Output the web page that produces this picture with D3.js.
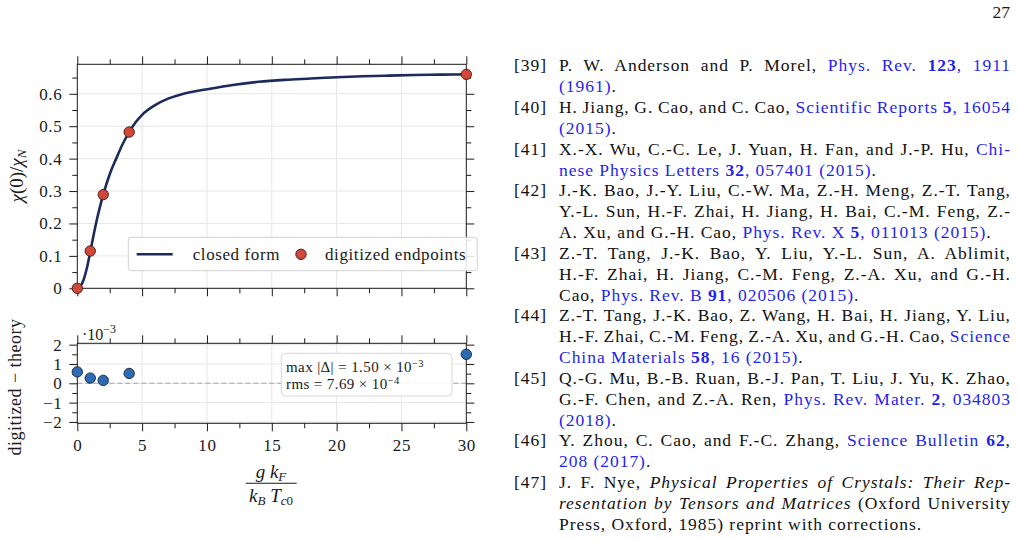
<!DOCTYPE html>
<html>
<head>
<meta charset="utf-8">
<title>chi(0)/chi_N closed form vs digitized endpoints</title>
<style>
  body { margin: 0; background: #fff; }
  #page { position: relative; width: 1018px; height: 540px; overflow: hidden; background: #fff;
          font-family: "Liberation Serif", Tinos, "Times New Roman", serif; color: #111; }
  #page svg { position: absolute; left: 0; top: 0; }
  .refs div { position: absolute; line-height: 20.83px; height: 20.83px; white-space: nowrap; }
  .refs .line { left: 559px; width: 452px; }
  .refs .num { left: 0; width: 547px; text-align: right; }
  .refs .l { color: #1f1ff0; }
  .refs .lb { color: #1f1ff0; font-weight: bold; }
  .refs .i { font-style: italic; }
</style>
</head>
<body>
<div id="page"></div>
<script src="https://cdn.jsdelivr.net/npm/d3@7"></script>
<script>

    // closed form curve
    var curveX = [0, 0.25, 0.5, 0.75, 1, 1.25, 1.5, 1.75, 2, 2.5, 3, 3.5, 4, 4.5, 5, 6, 7, 8, 9, 10, 12, 14, 16, 18, 20, 22, 24, 26, 28, 30];
    var curveY = [0, 0.007, 0.028, 0.064, 0.113, 0.163, 0.21, 0.252, 0.289, 0.352, 0.40, 0.445, 0.482, 0.512, 0.535, 0.565, 0.585, 0.598, 0.607, 0.614, 0.627, 0.637, 0.643, 0.647, 0.651, 0.654, 0.656, 0.658, 0.659, 0.660];

    // digitized endpoints and residuals (units of 1e-3)
    var pointX = [0, 1, 2, 4, 30];
    var pointY = [0, 0.115, 0.289, 0.482, 0.660];
    var residual = [0.59, 0.27, 0.15, 0.51, 1.50];

    var xTicks = [0, 5, 10, 15, 20, 25, 30];
    var xLabels = ["0", "5", "10", "15", "20", "25", "30"];
    var xMinor = [2.5, 7.5, 12.5, 17.5, 22.5, 27.5];
    var topTicks = [0, 0.1, 0.2, 0.3, 0.4, 0.5, 0.6];
    var topLabels = ["0", "0.1", "0.2", "0.3", "0.4", "0.5", "0.6"];
    var topMinor = [0.05, 0.15, 0.25, 0.35, 0.45, 0.55, 0.65];
    var botTicks = [-2, -1, 0, 1, 2];
    var botLabels = ["\u22122", "\u22121", "0", "1", "2"];
    var botMinor = [-1.5, -0.5, 0.5, 1.5];

    var statLines = ["max |\u0394| = 1.50 \u00d7 10", "rms = 7.69 \u00d7 10"];
    var statExps = ["\u22123", "\u22124"];

    // bibliography lines on the right half of the page
    var refLines = [
      {num: "[39]", just: true, segs: [["P. W. Anderson and P. Morel, ", ""], ["Phys. Rev. ", "l"], ["123", "lb"], [", 1911", "l"]]},
      {segs: [["(1961)", "l"], [".", ""]]},
      {num: "[40]", just: true, segs: [["H. Jiang, G. Cao, and C. Cao, ", ""], ["Scientific Reports ", "l"], ["5", "lb"], [", 16054", "l"]]},
      {segs: [["(2015)", "l"], [".", ""]]},
      {num: "[41]", just: true, segs: [["X.-X. Wu, C.-C. Le, J. Yuan, H. Fan, and J.-P. Hu, ", ""], ["Chi-", "l"]]},
      {segs: [["nese Physics Letters ", "l"], ["32", "lb"], [", 057401 (2015)", "l"], [".", ""]]},
      {num: "[42]", just: true, segs: [["J.-K. Bao, J.-Y. Liu, C.-W. Ma, Z.-H. Meng, Z.-T. Tang,", ""]]},
      {just: true, segs: [["Y.-L. Sun, H.-F. Zhai, H. Jiang, H. Bai, C.-M. Feng, Z.-", ""]]},
      {segs: [["A. Xu, and G.-H. Cao, ", ""], ["Phys. Rev. X ", "l"], ["5", "lb"], [", 011013 (2015)", "l"], [".", ""]]},
      {num: "[43]", just: true, segs: [["Z.-T. Tang, J.-K. Bao, Y. Liu, Y.-L. Sun, A. Ablimit,", ""]]},
      {just: true, segs: [["H.-F. Zhai, H. Jiang, C.-M. Feng, Z.-A. Xu, and G.-H.", ""]]},
      {segs: [["Cao, ", ""], ["Phys. Rev. B ", "l"], ["91", "lb"], [", 020506 (2015)", "l"], [".", ""]]},
      {num: "[44]", just: true, segs: [["Z.-T. Tang, J.-K. Bao, Z. Wang, H. Bai, H. Jiang, Y. Liu,", ""]]},
      {just: true, segs: [["H.-F. Zhai, C.-M. Feng, Z.-A. Xu, and G.-H. Cao, ", ""], ["Science", "l"]]},
      {segs: [["China Materials ", "l"], ["58", "lb"], [", 16 (2015)", "l"], [".", ""]]},
      {num: "[45]", just: true, segs: [["Q.-G. Mu, B.-B. Ruan, B.-J. Pan, T. Liu, J. Yu, K. Zhao,", ""]]},
      {just: true, segs: [["G.-F. Chen, and Z.-A. Ren, ", ""], ["Phys. Rev. Mater. ", "l"], ["2", "lb"], [", 034803", "l"]]},
      {segs: [["(2018)", "l"], [".", ""]]},
      {num: "[46]", just: true, segs: [["Y. Zhou, C. Cao, and F.-C. Zhang, ", ""], ["Science Bulletin ", "l"], ["62", "lb"], [",", ""]]},
      {segs: [["208 (2017)", "l"], [".", ""]]},
      {num: "[47]", just: true, segs: [["J. F. Nye, ", ""], ["Physical Properties of Crystals: Their Rep-", "i"]]},
      {just: true, segs: [["resentation by Tensors and Matrices", "i"], [" (Oxford University", ""]]},
      {segs: [["Press, Oxford, 1985) reprint with corrections.", ""]]}
    ];

    var SERIF = '"Liberation Serif", Tinos, "Times New Roman", serif';
    var NAVY = "#1c2a5c", RED = "#d1483a", BLUE = "#2f6bb3", INK = "#1a1a1a";

    var page = d3.select("#page");
    var svg = page.append("svg").attr("width", 1018).attr("height", 540);

    var x = d3.scaleLinear().domain([0, 30]).range([77.3, 466.3]);
    var yTop = d3.scaleLinear().domain([0, 0.691]).range([288.3, 64.3]);
    var yBot = d3.scaleLinear().domain([-2.07, 2.07]).range([423.3, 343.3]);

    function styleAxis(g) {
        g.select(".domain").remove();
        g.selectAll(".tick line").attr("stroke", INK).attr("stroke-width", 1);
        g.selectAll(".tick text")
            .attr("font-family", SERIF)
            .attr("font-size", 17)
            .attr("fill", INK)
            .style("letter-spacing", "0.6px");
    }

    function drawPanel(y, majY, minY, labY, showX) {
        var x0 = x.range()[0], x1 = x.range()[1];
        var yb = y.range()[0], yt = y.range()[1];

        // grid
        var grid = svg.append("g");
        grid.selectAll("line.gx").data(xTicks.slice(1, -1)).enter().append("line")
            .attr("x1", function(d) { return x(d); }).attr("x2", function(d) { return x(d); })
            .attr("y1", yt).attr("y2", yb)
            .attr("stroke", "#e6e6e6").attr("stroke-width", 1);
        grid.selectAll("line.gy").data(majY).enter().append("line")
            .attr("x1", x0).attr("x2", x1)
            .attr("y1", function(d) { return y(d); }).attr("y2", function(d) { return y(d); })
            .attr("stroke", "#e6e6e6").attr("stroke-width", 1);

        var ax = svg.append("g");
        ax.append("g").attr("transform", "translate(" + x0 + ",0)")
            .call(d3.axisLeft(y).tickValues(majY).tickSize(8).tickPadding(7)
                .tickFormat(function(d, i) { return labY[i]; }))
            .call(styleAxis);
        ax.append("g").attr("transform", "translate(" + x0 + ",0)")
            .call(d3.axisLeft(y).tickValues(minY).tickSize(5).tickFormat(""))
            .call(styleAxis);
        ax.append("g").attr("transform", "translate(" + x1 + ",0)")
            .call(d3.axisRight(y).tickValues(majY).tickSize(8).tickFormat(""))
            .call(styleAxis);
        ax.append("g").attr("transform", "translate(" + x1 + ",0)")
            .call(d3.axisRight(y).tickValues(minY).tickSize(5).tickFormat(""))
            .call(styleAxis);
        ax.append("g").attr("transform", "translate(0," + yt + ")")
            .call(d3.axisTop(x).tickValues(xTicks).tickSize(8).tickFormat(""))
            .call(styleAxis);
        ax.append("g").attr("transform", "translate(0," + yt + ")")
            .call(d3.axisTop(x).tickValues(xMinor).tickSize(5).tickFormat(""))
            .call(styleAxis);
        ax.append("g").attr("transform", "translate(0," + yb + ")")
            .call(d3.axisBottom(x).tickValues(xTicks).tickSize(8).tickPadding(8)
                .tickFormat(function(d, i) { return showX ? xLabels[i] : ""; }))
            .call(styleAxis);
        ax.append("g").attr("transform", "translate(0," + yb + ")")
            .call(d3.axisBottom(x).tickValues(xMinor).tickSize(5).tickFormat(""))
            .call(styleAxis);

        return ax;
    }

    // ---------- top panel ----------
    drawPanel(yTop, topTicks, topMinor, topLabels, false);

    var line = d3.line()
        .x(function(d) { return x(d[0]); })
        .y(function(d) { return yTop(d[1]); })
        .curve(d3.curveMonotoneX);

    svg.append("path")
        .datum(d3.zip(curveX, curveY))
        .attr("d", line)
        .attr("fill", "none")
        .attr("stroke", NAVY)
        .attr("stroke-width", 2.6);

    svg.append("rect")
        .attr("x", x.range()[0]).attr("y", yTop.range()[1])
        .attr("width", x.range()[1] - x.range()[0])
        .attr("height", yTop.range()[0] - yTop.range()[1])
        .attr("fill", "none").attr("stroke", INK).attr("stroke-width", 1);

    svg.append("g").selectAll("circle")
        .data(d3.zip(pointX, pointY))
        .enter().append("circle")
        .attr("cx", function(d) { return x(d[0]); })
        .attr("cy", function(d) { return yTop(d[1]); })
        .attr("r", 5.2)
        .attr("fill", RED)
        .attr("stroke", "#3a1812")
        .attr("stroke-width", 0.9);

    // legend
    var leg = svg.append("g");
    leg.append("rect")
        .attr("x", 128.3).attr("y", 237.3).attr("width", 349).attr("height", 33.4)
        .attr("rx", 3).attr("fill", "#fff").attr("fill-opacity", 0.85)
        .attr("stroke", "#d0d0d0").attr("stroke-width", 1);
    leg.append("line")
        .attr("x1", 136.7).attr("x2", 172.7).attr("y1", 254.3).attr("y2", 254.3)
        .attr("stroke", NAVY).attr("stroke-width", 2.6);
    leg.append("text").attr("x", 192.7).attr("y", 259.6)
        .attr("font-family", SERIF).attr("font-size", 17).attr("fill", INK)
        .style("letter-spacing", "0.6px")
        .text("closed form");
    leg.append("circle").attr("cx", 301).attr("cy", 254.3).attr("r", 5.2)
        .attr("fill", RED).attr("stroke", "#3a1812").attr("stroke-width", 0.9);
    leg.append("text").attr("x", 325).attr("y", 259.6)
        .attr("font-family", SERIF).attr("font-size", 17).attr("fill", INK)
        .style("letter-spacing", "0.6px")
        .text("digitized endpoints");

    // y label top
    var yl = svg.append("text")
        .attr("transform", "translate(23,176) rotate(-90)")
        .attr("text-anchor", "middle")
        .attr("font-family", SERIF).attr("font-size", 19).attr("fill", INK);
    yl.append("tspan").attr("font-style", "italic").text("\u03c7");
    yl.append("tspan").text("(0)/");
    yl.append("tspan").attr("font-style", "italic").text("\u03c7");
    yl.append("tspan").attr("font-style", "italic").attr("font-size", 13).attr("dy", 3).text("N");

    // ---------- bottom panel ----------
    drawPanel(yBot, botTicks, botMinor, botLabels, true);

    svg.append("line")
        .attr("x1", x(0)).attr("x2", x(30))
        .attr("y1", yBot(0)).attr("y2", yBot(0))
        .attr("stroke", "#b4b4b4").attr("stroke-width", 1.2)
        .attr("stroke-dasharray", "5,3");

    svg.append("rect")
        .attr("x", x.range()[0]).attr("y", yBot.range()[1])
        .attr("width", x.range()[1] - x.range()[0])
        .attr("height", yBot.range()[0] - yBot.range()[1])
        .attr("fill", "none").attr("stroke", INK).attr("stroke-width", 1);

    svg.append("g").selectAll("circle")
        .data(d3.zip(pointX, residual))
        .enter().append("circle")
        .attr("cx", function(d) { return x(d[0]); })
        .attr("cy", function(d) { return yBot(d[1]); })
        .attr("r", 5.2)
        .attr("fill", BLUE)
        .attr("stroke", "#13233d")
        .attr("stroke-width", 0.9);

    // offset text  .10^-3
    var off = svg.append("text").attr("x", 82).attr("y", 340)
        .attr("font-family", SERIF).attr("font-size", 16).attr("fill", INK);
    off.append("tspan").text("\u00b710");
    off.append("tspan").attr("font-size", 12).attr("dy", -7).text("\u22123");

    // stats box
    var st = svg.append("g");
    st.append("rect")
        .attr("x", 281.3).attr("y", 353.3).attr("width", 170.7).attr("height", 42.7)
        .attr("rx", 4).attr("fill", "#fff").attr("fill-opacity", 0.9)
        .attr("stroke", "#d8d8d8").attr("stroke-width", 1);
    statLines.forEach(function(s, i) {
        var t = st.append("text").attr("x", 286).attr("y", 371.5 + i * 17)
            .attr("font-family", SERIF).attr("font-size", 15).attr("fill", INK)
            .style("letter-spacing", "0.4px");
        t.append("tspan").text(s);
        t.append("tspan").attr("font-size", 10.5).attr("dy", -5).text(statExps[i]);
    });

    // y label bottom
    svg.append("text")
        .attr("transform", "translate(21,387) rotate(-90)")
        .attr("text-anchor", "middle")
        .attr("font-family", SERIF).attr("font-size", 18).attr("fill", INK)
        .style("letter-spacing", "0.5px")
        .text("digitized \u2212 theory");

    // x label as a fraction
    var xl = svg.append("g").attr("font-family", SERIF).attr("font-style", "italic").attr("fill", INK);
    var num = xl.append("text").attr("x", 271).attr("y", 478).attr("text-anchor", "middle").attr("font-size", 19);
    num.append("tspan").text("g k");
    num.append("tspan").attr("font-size", 13).attr("dy", 3).text("F");
    xl.append("line").attr("x1", 245.7).attr("x2", 296.7).attr("y1", 483.3).attr("y2", 483.3)
        .attr("stroke", INK).attr("stroke-width", 1.1);
    var den = xl.append("text").attr("x", 271).attr("y", 501.7).attr("text-anchor", "middle").attr("font-size", 19);
    den.append("tspan").text("k");
    den.append("tspan").attr("font-size", 13).attr("dy", 3).text("B");
    den.append("tspan").attr("dy", -3).text(" T");
    den.append("tspan").attr("font-size", 13).attr("dy", 3).text("c");
    den.append("tspan").attr("font-size", 13).attr("font-style", "normal").text("0");

    // page number
    svg.append("text").attr("x", 1010).attr("y", 18).attr("text-anchor", "end")
        .attr("font-family", SERIF).attr("font-size", 17.5).attr("fill", INK)
        .text("27");

    // ---------- references ----------
    // size the text so that the last, unjustified line is as wide as in the picture
    var probe = document.createElement("canvas").getContext("2d");
    var refSize = 17.5, refSpacing = 0;
    probe.font = refSize + "px " + SERIF;
    var lastText = "Press, Oxford, 1985) reprint with corrections.";
    var natural = probe.measureText(lastText).width;
    if (natural < 363) {
        refSpacing = (363 - natural) / lastText.length;
    } else {
        refSize = refSize * 363 / natural;
    }

    var refs = page.append("div").attr("class", "refs")
        .style("font-size", refSize + "px")
        .style("letter-spacing", refSpacing + "px");
    var refBase = 71.7, refStep = 20.83, baseOff = 16.3, lineWidth = 451;
    refLines.forEach(function(r, i) {
        var top = refBase + i * refStep - baseOff;
        if (r.num) {
            refs.append("div").attr("class", "num").style("top", top + "px").text(r.num);
        }
        var div = refs.append("div").attr("class", "line").style("top", top + "px");
        var inner = div.append("span");
        r.segs.forEach(function(s) {
            inner.append("span").attr("class", s[1]).text(s[0]);
        });
        if (r.just) {
            // justify by hand: spread the rest of the line over the spaces
            var w = inner.node().getBoundingClientRect().width - refSpacing;
            var gaps = (r.segs.map(function(s) { return s[0]; }).join("").match(/ /g) || []).length;
            div.style("word-spacing", ((lineWidth - w) / gaps) + "px");
        }
    });

</script>
</body>
</html>
